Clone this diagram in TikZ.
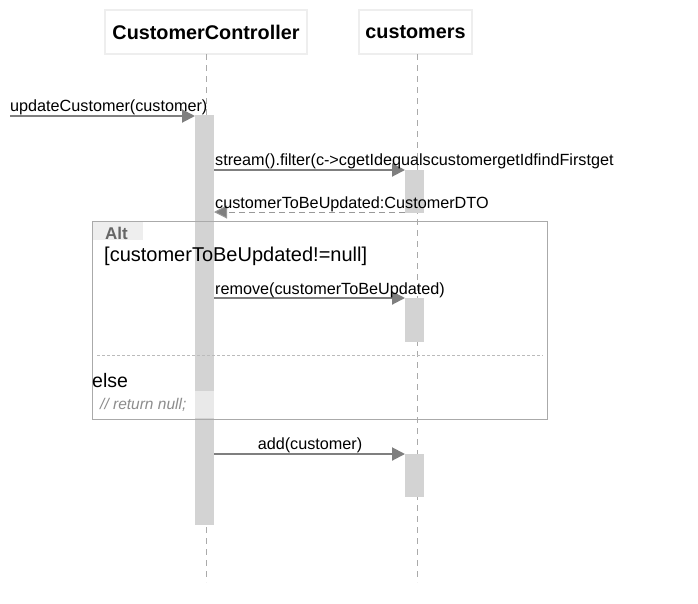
\documentclass[tikz,border=0pt]{standalone}
\usepackage{fontspec}
\setmainfont{Liberation Sans}
\usetikzlibrary{arrows.meta}
\definecolor{actgray}{HTML}{D3D3D3}
\definecolor{msggray}{HTML}{7F7F7F}
\definecolor{lifegray}{HTML}{AAAAAA}
\definecolor{boxborder}{HTML}{EEEEEE}
\definecolor{framegray}{HTML}{AAAAAA}
\definecolor{altgray}{HTML}{666666}
\tikzset{
  head/.style={draw=boxborder, line width=1.5pt, fill=white, font=\bfseries\fontsize{19.8}{23}\selectfont, inner sep=0pt},
  life/.style={draw=lifegray, line width=0.6pt, dash pattern=on 6pt off 5pt},
  act/.style={fill=actgray, draw=none},
  msg/.style={draw=msggray, line width=2pt, -{Triangle[length=13pt,width=13pt]}},
  ret/.style={draw=msggray!80, line width=1pt, dash pattern=on 6pt off 4pt, -{Triangle[length=13pt,width=13pt,fill=msggray]}},
  lbl/.style={font=\fontsize{16.2}{19}\selectfont, inner sep=0pt, anchor=base west},
}
\begin{document}
\begin{tikzpicture}[x=1pt,y=-1pt]
\useasboundingbox (0,0) rectangle (698,603);
% headers
\node[head, minimum width=202pt, minimum height=44pt] (cc) at (206,32) {CustomerController};
\node[head, minimum width=113pt, minimum height=44pt] (cu) at (415.5,32) {customers};
% lifelines
\coordinate (ccend) at (206,582);
\coordinate (cuend) at (417,582);
\draw[life] (206,54) -- (ccend);
\draw[life] (417,54) -- (cuend);
% activations
\path[act] (195,115) rectangle (214,525);
\path[act] (405,170) rectangle (424,213);
\path[act] (405,298) rectangle (424,342);
\path[act] (405,454) rectangle (424,497);
% alt frame
\draw[framegray, line width=1pt] (92,221) rectangle (547,419);
\path[fill=boxborder] (92.5,221.5) rectangle (143,240);
\node[font=\bfseries\fontsize{17}{20}\selectfont, text=altgray, anchor=base west, inner sep=0pt] (alt) at (105,239) {Alt};
\node[font=\fontsize{20}{24}\selectfont, anchor=base west, inner sep=0pt] (cond) at (104,261) {[customerToBeUpdated!=null]};
\draw[framegray!80, line width=0.6pt, dash pattern=on 3pt off 2pt] (97,355) -- (543,355);
\node[font=\fontsize{19.5}{23}\selectfont, anchor=base west, inner sep=0pt] (else) at (92,387) {else};
\path[fill=white, fill opacity=0.5] (195,391) rectangle (214,418);
\node[font=\itshape\fontsize{15.5}{18}\selectfont, text=gray!90, anchor=base west, inner sep=0pt] (ret) at (100,409) {// return null;};
% messages
\coordinate (start) at (10,116);
\coordinate (a1) at (195,116);
\draw[msg] (start) -- (a1);
\node[lbl] (l1) at (10,111) {updateCustomer(customer)};

\coordinate (s1) at (214,170);
\coordinate (t1) at (405,170);
\draw[msg] (s1) -- (t1);
\node[lbl] (l2) at (215,165) {stream().filter(c->cgetIdequalscustomergetIdfindFirstget};

\coordinate (s2) at (405,212);
\coordinate (t2) at (214,212);
\draw[ret] (s2) -- (t2);
\node[lbl] (l3) at (215,208) {customerToBeUpdated:CustomerDTO};

\coordinate (s3) at (214,298);
\coordinate (t3) at (405,298);
\draw[msg] (s3) -- (t3);
\node[lbl] (l4) at (215,294) {remove(customerToBeUpdated)};

\coordinate (s4) at (214,454);
\coordinate (t4) at (405,454);
\draw[msg] (s4) -- (t4);
\node[lbl, anchor=base] (l5) at (310,449) {add(customer)};
\end{tikzpicture}
\end{document}
